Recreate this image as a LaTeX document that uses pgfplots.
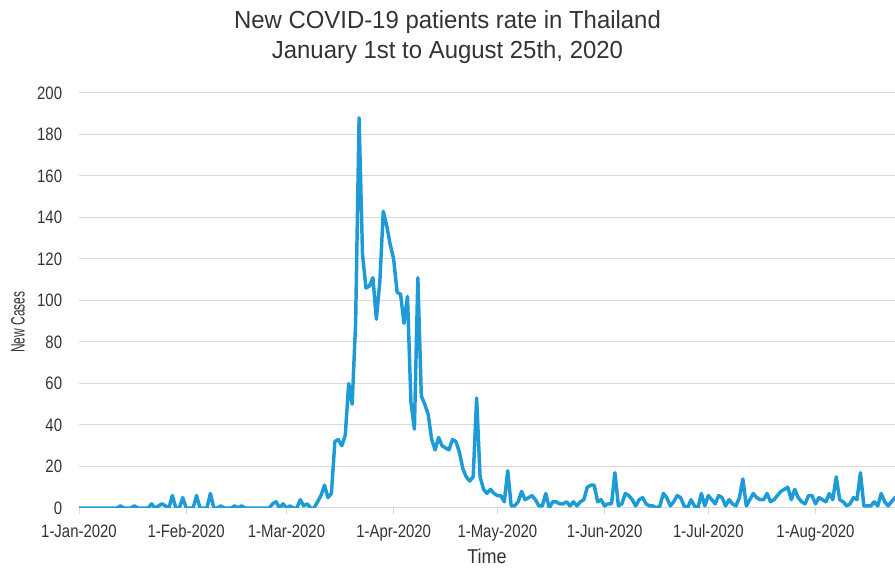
\documentclass[border=0pt]{standalone}
\usepackage{fontspec}
\setmainfont{Liberation Sans}
\newfontfamily\tickfont{Liberation Sans}[FakeStretch=0.83]
\newfontfamily\titlefont{Liberation Sans}[FakeStretch=0.97]
\newfontfamily\labelfont{Liberation Sans}[FakeStretch=0.9]
\newfontfamily\ylabelfont{Liberation Sans}[FakeStretch=0.62]
\usepackage{pgfplots}
\pgfplotsset{compat=1.18}
\definecolor{linecol}{RGB}{30,155,215}
\definecolor{gridcol}{RGB}{217,217,217}
\definecolor{txtcol}{RGB}{51,51,51}
\begin{document}
\begin{tikzpicture}
\useasboundingbox (0,0) rectangle (671.25pt,425.25pt);
\node[text=txtcol, font=\titlefont\fontsize{18.5}{20}\selectfont] at (335.6pt,408.5pt) {New COVID-19 patients rate in Thailand};
\node[text=txtcol, font=\titlefont\fontsize{18.5}{20}\selectfont] at (335.6pt,386pt) {January 1st to August 25th, 2020};
\begin{axis}[
  at={(59.25pt,44.25pt)}, anchor=south west,
  scale only axis, width=612pt, height=311.25pt,
  xmin=0, xmax=236, ymin=0, ymax=200,
  clip=true,
  axis line style={draw=none},
  ymajorgrids, grid style={gridcol, line width=0.75pt},
  ytick={0,20,...,200},
  xtick={0,31,60,91,121,152,182,213},
  xticklabels={1-Jan-2020,1-Feb-2020,1-Mar-2020,1-Apr-2020,1-May-2020,1-Jun-2020,1-Jul-2020,1-Aug-2020},
  tickpos=left, tick align=outside,
  ytick style={draw=none},
  xtick style={draw=gridcol, line width=0.75pt},
  major tick length=4.5pt,
  /pgf/number format/assume math mode=true,
  ticklabel style={text=txtcol, font=\tickfont\fontsize{13.5}{14}\selectfont},
  yticklabel style={inner sep=0pt, anchor=east, xshift=-8pt},
  xticklabel style={inner sep=0pt, anchor=north, yshift=-8pt},
  xlabel={Time}, ylabel={New Cases},
  xlabel style={at={(axis description cs:0.5,-0.1157)}, anchor=center, text=txtcol, font=\labelfont\fontsize{15}{16}\selectfont},
  ylabel style={at={(axis description cs:-0.0748,0.448)}, anchor=center, text=txtcol, font=\ylabelfont\fontsize{14.5}{15}\selectfont},
]
\addplot[linecol, line width=2.6pt, line join=round] coordinates {
(0,0)(1,0)(2,0)(3,0)(4,0)(5,0)(6,0)(7,0)(8,0)(9,0)(10,0)(11,0)(12,1)(13,0)(14,0)(15,0)(16,1)(17,0)(18,0)(19,0)
(20,0)(21,2)(22,0)(23,1)(24,2)(25,1)(26,0)(27,6)(28,0)(29,0)(30,5)(31,0)(32,0)(33,0)(34,6)(35,0)(36,0)(37,0)(38,7)(39,0)
(40,0)(41,1)(42,0)(43,0)(44,0)(45,1)(46,0)(47,1)(48,0)(49,0)(50,0)(51,0)(52,0)(53,0)(54,0)(55,0)(56,2)(57,3)(58,0)(59,2)
(60,0)(61,1)(62,0)(63,0)(64,4)(65,1)(66,2)(67,0)(68,0)(69,3)(70,6)(71,11)(72,5)(73,7)(74,32)(75,33)(76,30)(77,35)(78,60)(79,50)
(80,89)(81,188)(82,122)(83,106)(84,107)(85,111)(86,91)(87,109)(88,143)(89,136)(90,127)(91,120)(92,104)(93,103)(94,89)(95,102)(96,51)(97,38)(98,111)(99,54)
(100,50)(101,45)(102,33)(103,28)(104,34)(105,30)(106,29)(107,28)(108,33)(109,32)(110,27)(111,19)(112,15)(113,13)(114,15)(115,53)(116,15)(117,9)(118,7)(119,9)
(120,7)(121,6)(122,6)(123,3)(124,18)(125,1)(126,1)(127,3)(128,8)(129,4)(130,5)(131,6)(132,4)(133,1)(134,1)(135,7)(136,0)(137,3)(138,3)(139,2)
(140,2)(141,3)(142,1)(143,3)(144,1)(145,3)(146,4)(147,10)(148,11)(149,11)(150,3)(151,4)(152,1)(153,2)(154,2)(155,17)(156,1)(157,2)(158,7)(159,6)
(160,4)(161,1)(162,4)(163,5)(164,2)(165,1)(166,1)(167,0)(168,1)(169,7)(170,5)(171,1)(172,3)(173,6)(174,5)(175,1)(176,0)(177,4)(178,1)(179,0)
(180,7)(181,1)(182,6)(183,4)(184,2)(185,6)(186,5)(187,1)(188,4)(189,2)(190,1)(191,5)(192,14)(193,1)(194,4)(195,7)(196,5)(197,4)(198,4)(199,7)
(200,3)(201,4)(202,6)(203,8)(204,9)(205,10)(206,4)(207,9)(208,5)(209,3)(210,2)(211,6)(212,6)(213,2)(214,5)(215,4)(216,3)(217,7)(218,4)(219,15)
(220,4)(221,3)(222,1)(223,2)(224,5)(225,4)(226,17)(227,1)(228,1)(229,1)(230,3)(231,1)(232,7)(233,3)(234,1)(235,3)(236,5)(237,5)
};
\end{axis}
\end{tikzpicture}
\end{document}
